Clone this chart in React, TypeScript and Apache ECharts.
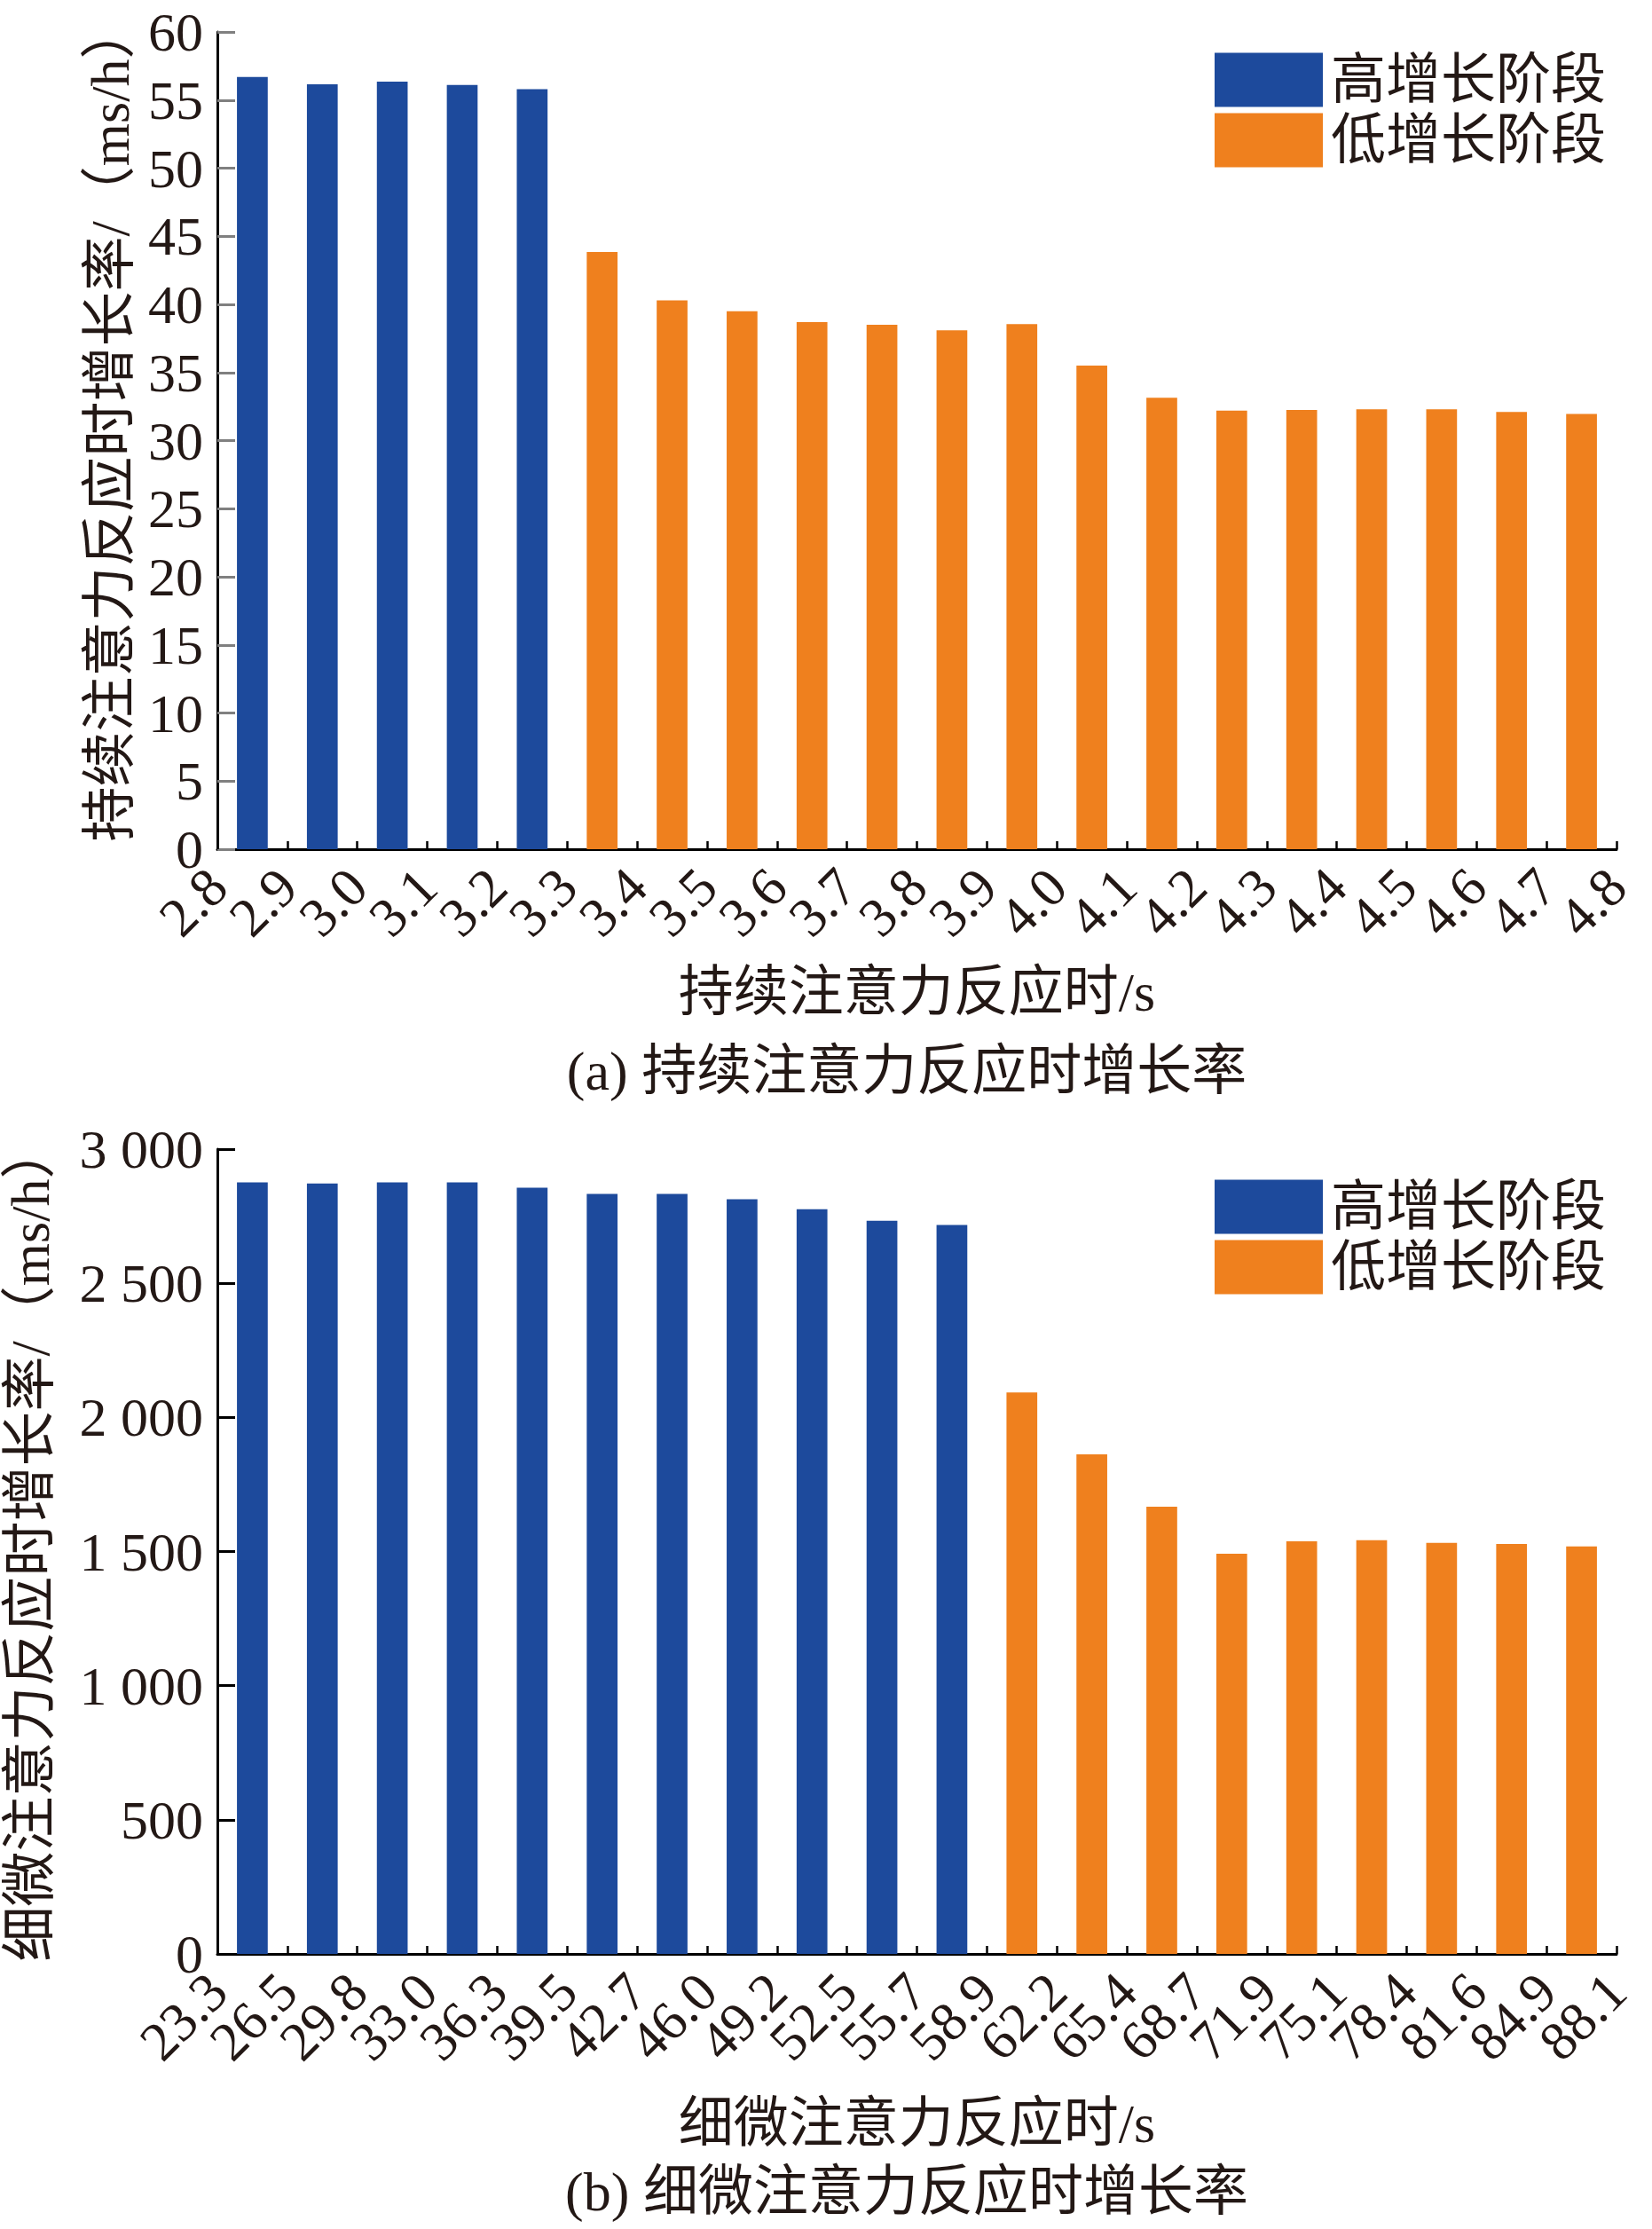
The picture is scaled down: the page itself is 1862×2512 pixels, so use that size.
import React, { useEffect, useRef } from 'react';
import * as echarts from 'echarts';

// ---- data ----
const aTicks = ['2.8', '2.9', '3.0', '3.1', '3.2', '3.3', '3.4', '3.5', '3.6', '3.7', '3.8', '3.9', '4.0', '4.1', '4.2', '4.3', '4.4', '4.5', '4.6', '4.7', '4.8'];
const aHigh = [56.7, 56.15, 56.35, 56.1, 55.8];
const aLow = [43.85, 40.3, 39.5, 38.7, 38.5, 38.1, 38.55, 35.5, 33.15, 32.2, 32.25, 32.3, 32.3, 32.1, 31.95];

const bTicks = ['23.3', '26.5', '29.8', '33.0', '36.3', '39.5', '42.7', '46.0', '49.2', '52.5', '55.7', '58.9', '62.2', '65.4', '68.7', '71.9', '75.1', '78.4', '81.6', '84.9', '88.1'];
const bHigh = [2876, 2872, 2876, 2876, 2856, 2833, 2833, 2813, 2776, 2733, 2717];
const bLow = [2093, 1862, 1667, 1492, 1538, 1542, 1532, 1528, 1519];

const seriesNames = ['高增长阶段', '低增长阶段'];
const aXName = '持续注意力反应时/s';
const aYName = '持续注意力反应时增长率/（ms/h）';
const aCaption = '(a) 持续注意力反应时增长率';
const bXName = '细微注意力反应时/s';
const bYName = '细微注意力反应时增长率/（ms/h）';
const bCaption = '(b) 细微注意力反应时增长率';

// ---- style ----
const W = 1862;
const H = 2512;
const BLUE = '#1d4a9c';
const ORANGE = '#ef801e';
const TXT = '#231815';
const FONT = '"Liberation Serif", "Noto Sans CJK SC", serif';
const FS = 62;

const bins = (t: string[]) => t.slice(0, -1).map((v, i) => `${v}-${t[i + 1]}`);
const pad = (vals: (number | null)[], before: number, after: number) => [
  ...Array(before).fill(null),
  ...vals,
  ...Array(after).fill(null),
];

function buildOption() {
  const textStyle = { fontFamily: FONT, fontSize: FS, color: TXT };
  const grids = [
    { left: 245, top: 36, width: 1577, height: 921, outerBoundsMode: 'none', containLabel: false },
    { left: 245, top: 1295, width: 1577, height: 907, outerBoundsMode: 'none', containLabel: false },
  ];

  const barAxis = (gi: number, data: string[], name: string, nameGap: number) => ({
    type: 'category',
    gridIndex: gi,
    data,
    boundaryGap: true,
    position: 'bottom',
    axisLine: { show: true, onZero: false, lineStyle: { color: '#000', width: 3 } },
    axisTick: { show: true, inside: true, length: 9, lineStyle: { color: '#000', width: 2.5 } },
    axisLabel: { show: false },
    splitLine: { show: false },
    name,
    nameLocation: 'middle',
    nameGap,
    nameTextStyle: textStyle,
  });
  const labelAxis = (gi: number, data: string[]) => ({
    type: 'category',
    gridIndex: gi,
    data,
    boundaryGap: false,
    position: 'bottom',
    offset: 0,
    axisLine: { show: false },
    axisTick: { show: false },
    splitLine: { show: false },
    axisLabel: { ...textStyle, rotate: 45, interval: 0, margin: 32, hideOverlap: false },
  });
  const valAxis = (
    gi: number,
    max: number,
    interval: number,
    tickColor: string,
    name: string,
    nameGap: number,
    shift: number,
    fmt: (v: number) => string
  ) => ({
    type: 'value',
    gridIndex: gi,
    min: 0,
    max,
    interval,
    axisLine: { show: true, lineStyle: { color: '#000', width: 3 } },
    axisTick: { show: true, inside: true, length: 20, lineStyle: { color: tickColor, width: 3 } },
    splitLine: { show: false },
    axisLabel: { ...textStyle, margin: 16, formatter: fmt },
    name,
    nameLocation: 'middle',
    nameRotate: 90,
    nameGap,
    nameTextStyle: { ...textStyle, padding: [0, 0, 0, shift] },
  });

  const bar = (name: string, xi: number, yi: number, data: (number | null)[], color: string) => ({
    type: 'bar',
    name,
    xAxisIndex: xi,
    yAxisIndex: yi,
    data,
    barWidth: '44%',
    barGap: '-100%',
    itemStyle: { color },
  });

  const nA = aTicks.length - 1;
  const nB = bTicks.length - 1;

  const legend = (top: number) => ({
    left: 1364,
    top,
    orient: 'vertical',
    icon: 'rect',
    itemWidth: 122,
    itemHeight: 61,
    itemGap: 6,
    selectedMode: false,
    data: seriesNames,
    textStyle: { ...textStyle, lineHeight: 61, padding: [0, 0, 0, 4] },
  });

  const caption = (x: number, y: number, text: string) => ({
    type: 'text',
    x,
    y,
    style: { text, fontFamily: FONT, fontSize: FS, fill: TXT, align: 'center', verticalAlign: 'middle' },
  });

  const thousands = (v: number) => {
    const s = String(v);
    return s.length > 3 ? s.slice(0, -3) + ' ' + s.slice(-3) : s;
  };

  return {
    animation: false,
    backgroundColor: '#fff',
    grid: grids,
    legend: [legend(54), legend(1324)],
    xAxis: [
      barAxis(0, bins(aTicks), aXName, 130),
      labelAxis(0, aTicks),
      barAxis(1, bins(bTicks), bXName, 160),
      labelAxis(1, bTicks),
    ],
    yAxis: [
      valAxis(0, 60, 5, '#808080', aYName, 90, 40, (v: number) => String(v)),
      valAxis(1, 3000, 500, '#000', bYName, 180, 20, thousands),
    ],
    series: [
      bar(seriesNames[0], 0, 0, pad(aHigh, 0, nA - aHigh.length), BLUE),
      bar(seriesNames[1], 0, 0, pad(aLow, aHigh.length, nA - aHigh.length - aLow.length), ORANGE),
      bar(seriesNames[0], 2, 1, pad(bHigh, 0, nB - bHigh.length), BLUE),
      bar(seriesNames[1], 2, 1, pad(bLow, bHigh.length, nB - bHigh.length - bLow.length), ORANGE),
    ],
    graphic: [caption(1022, 1207, aCaption), caption(1022, 2470, bCaption)],
  };
}

export default function App() {
  const ref = useRef<HTMLDivElement>(null);
  useEffect(() => {
    document.body.style.margin = '0';
    const chart = echarts.init(ref.current as HTMLDivElement, null, { renderer: 'svg' });
    chart.setOption(buildOption() as any);
    return () => chart.dispose();
  }, []);
  return <div ref={ref} style={{ width: W, height: H }} />;
}
